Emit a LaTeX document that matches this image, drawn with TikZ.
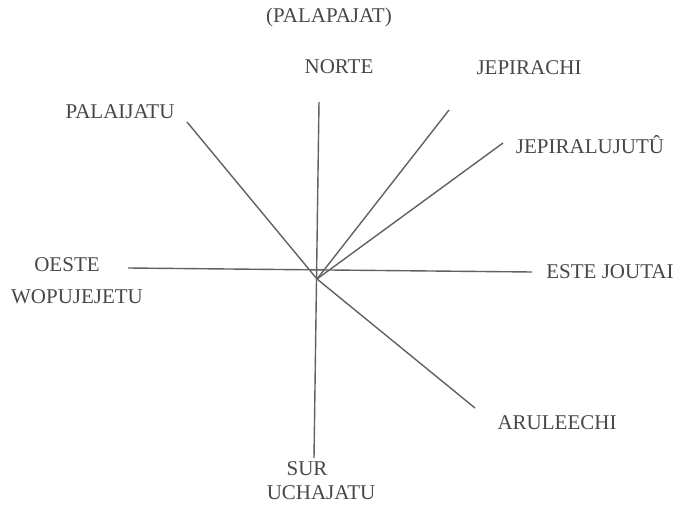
\documentclass[tikz,border=0pt]{standalone}
\usepackage{fontspec}
\setmainfont{Liberation Serif}
\begin{document}
\begin{tikzpicture}[x=1pt,y=-1pt,
  lbl/.style={inner sep=0pt,text=black!72,font=\fontsize{21}{23}\selectfont},
  ray/.style={draw=black!62,line width=1.4pt}]
\useasboundingbox (0,0) rectangle (682,508);
% labels
\node[lbl] (pal) at (329,17) {(PALAPAJAT)};
\node[lbl] (norte) at (339,67) {NORTE};
\node[lbl] (jepirachi) at (529,68) {JEPIRACHI};
\node[lbl] (palaijatu) at (120,112) {PALAIJATU};
\node[lbl] (jepiralu) at (590,145) {JEPIRALUJUT\^U};
\node[lbl] (oeste) at (67,265) {OESTE};
\node[lbl] (wopu) at (77,297) {WOPUJEJETU};
\node[lbl] (este) at (610,272) {ESTE JOUTAI};
\node[lbl] (aru) at (557,423) {ARULEECHI};
\node[lbl] (sur) at (307,469) {SUR};
\node[lbl] (ucha) at (321,493) {UCHAJATU};
% line points
\coordinate (c) at (317,279);
\coordinate (ntop) at (319,102);
\coordinate (sbot) at (314,458);
\coordinate (wend) at (128,268);
\coordinate (eend) at (532,272);
\coordinate (nwend) at (187,122);
\coordinate (jend) at (449,110);
\coordinate (jlend) at (503,143);
\coordinate (aend) at (475,408);
% lines
\draw[ray] (ntop) -- (sbot);
\draw[ray] (wend) -- (eend);
\draw[ray] (nwend) -- (c);
\draw[ray] (c) -- (jend);
\draw[ray] (c) -- (jlend);
\draw[ray] (c) -- (aend);
\end{tikzpicture}
\end{document}
